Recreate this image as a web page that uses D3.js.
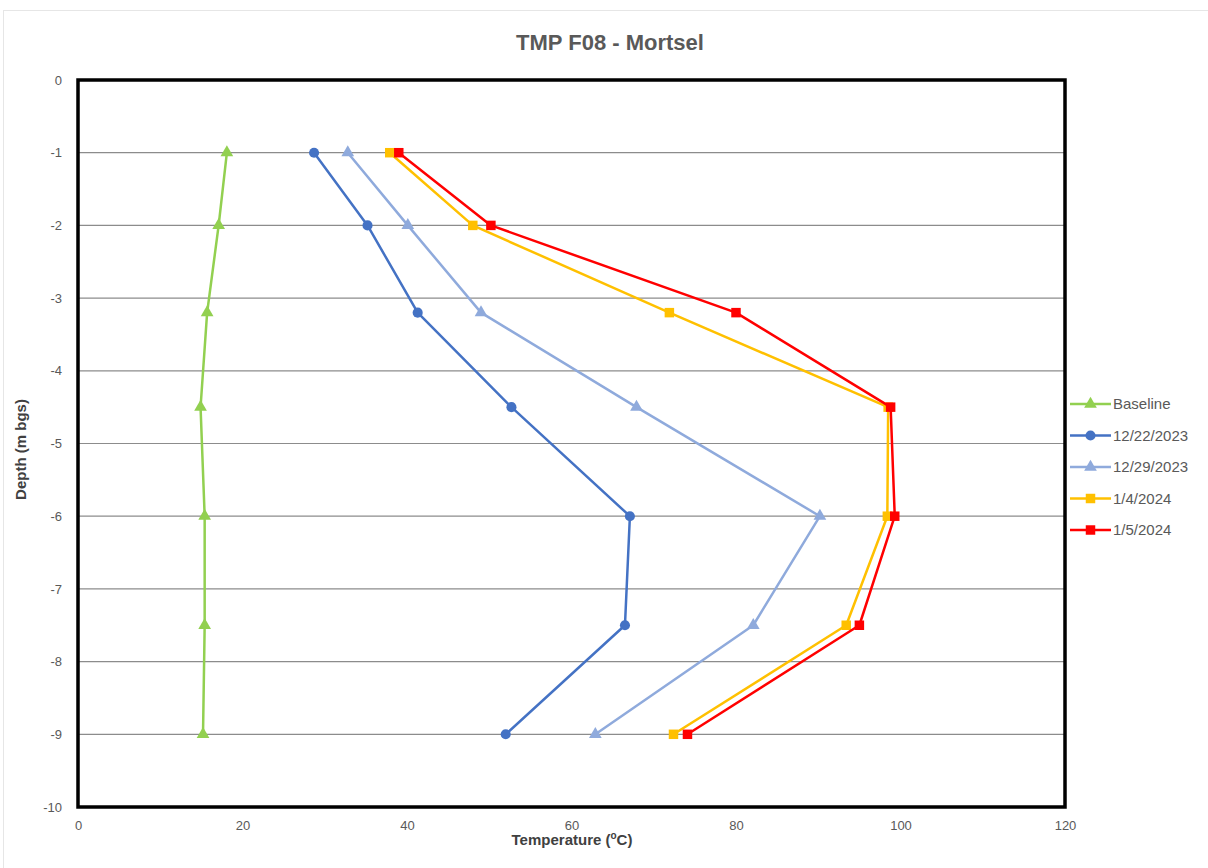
<!DOCTYPE html>
<html>
<head>
<meta charset="utf-8">
<script src="https://cdn.jsdelivr.net/npm/d3@7/dist/d3.min.js"></script>
<style>
  html, body { margin: 0; padding: 0; background: #fff; }
  svg { display: block; }
  text { font-family: "Liberation Sans Narrow", "Liberation Sans", Arial, sans-serif; }
</style>
</head>
<body>
<svg id="chart" width="1208" height="868"></svg>
<script>
// Sampling depths (m below ground surface)
const depths = [-1, -2, -3.2, -4.5, -6, -7.5, -9];

// Temperature profiles per survey date (°C)
const baseline = [18.1, 17.1, 15.7, 14.9, 15.4, 15.4, 15.2];
const dec22    = [28.7, 35.2, 41.3, 52.7, 67.1, 66.5, 52.0];
const dec29    = [32.8, 40.1, 49.0, 67.9, 90.2, 82.1, 62.9];
const jan04    = [37.9, 48.0, 71.9, 98.5, 98.4, 93.4, 72.4];
const jan05    = [39.0, 50.2, 80.0, 98.8, 99.3, 95.0, 74.1];

const seriesNames = ["Baseline", "12/22/2023", "12/29/2023", "1/4/2024", "1/5/2024"];
const seriesValues = [baseline, dec22, dec29, jan04, jan05];
const seriesColors = ["#92D050", "#4472C4", "#8FAADC", "#FFC000", "#FF0000"];
const seriesMarkers = ["triangle", "circle", "triangle", "square", "square"];

const xTicks = [0, 20, 40, 60, 80, 100, 120];
const yTicks = [0, -1, -2, -3, -4, -5, -6, -7, -8, -9, -10];

const svg = d3.select("#chart");

// Chart area outline
svg.append("rect")
  .attr("x", 3.5).attr("y", 10.5)
  .attr("width", 1220).attr("height", 870)
  .attr("fill", "#fff").attr("stroke", "#e6e6e6");

const plot = { left: 78, right: 1065, top: 80, bottom: 807 };

const x = d3.scaleLinear().domain([0, 120]).range([plot.left, plot.right]);
const y = d3.scaleLinear().domain([0, -10]).range([plot.top, plot.bottom]);

// Title
svg.append("text")
  .attr("x", 610).attr("y", 50)
  .attr("text-anchor", "middle")
  .attr("font-size", 22).attr("font-weight", "bold")
  .attr("fill", "#595959")
  .text("TMP F08 - Mortsel");

// Horizontal gridlines
svg.append("g")
  .selectAll("line")
  .data(yTicks.slice(1, -1))
  .join("line")
  .attr("x1", plot.left).attr("x2", plot.right)
  .attr("y1", d => y(d)).attr("y2", d => y(d))
  .attr("stroke", "#8c8c8c").attr("stroke-width", 1.2);

// Axes (labels only, plain hyphen for negatives)
const plain = d => String(d);
const yAxis = svg.append("g")
  .attr("transform", `translate(${plot.left},0)`)
  .call(d3.axisLeft(y).tickValues(yTicks).tickSize(0).tickPadding(16).tickFormat(plain));
yAxis.select(".domain").remove();
yAxis.selectAll("text").attr("fill", "#595959").attr("font-size", 13);

const xAxis = svg.append("g")
  .attr("transform", `translate(0,${plot.bottom})`)
  .call(d3.axisBottom(x).tickValues(xTicks).tickSize(0).tickPadding(14).tickFormat(plain));
xAxis.select(".domain").remove();
xAxis.selectAll("text").attr("fill", "#595959").attr("font-size", 13);

// Plot frame
svg.append("rect")
  .attr("x", plot.left).attr("y", plot.top)
  .attr("width", plot.right - plot.left).attr("height", plot.bottom - plot.top)
  .attr("fill", "none").attr("stroke", "#000").attr("stroke-width", 3.5);

// Axis titles
const xt = svg.append("text")
  .attr("x", 572).attr("y", 845)
  .attr("text-anchor", "middle")
  .attr("font-size", 15).attr("font-weight", "bold")
  .attr("fill", "#404040");
xt.append("tspan").text("Temperature (");
xt.append("tspan").attr("font-size", 10).attr("dy", -6).text("o");
xt.append("tspan").attr("dy", 6).text("C)");

svg.append("text")
  .attr("transform", `translate(26,${(plot.top + plot.bottom) / 2 + 6}) rotate(-90)`)
  .attr("text-anchor", "middle")
  .attr("font-size", 15).attr("font-weight", "bold")
  .attr("fill", "#404040")
  .text("Depth (m bgs)");

// Marker shapes
const symbolFor = {
  circle: d3.symbol().type(d3.symbolCircle).size(80),
  square: d3.symbol().type(d3.symbolSquare).size(90),
  triangle: d3.symbol().type(d3.symbolTriangle).size(70)
};

const line = d3.line().x(d => x(d.t)).y(d => y(d.d));

const series = seriesNames.map((name, i) => ({
  name,
  color: seriesColors[i],
  marker: seriesMarkers[i],
  points: depths.map((d, j) => ({ d, t: seriesValues[i][j] }))
}));

const sg = svg.append("g").selectAll("g").data(series).join("g");
sg.append("path")
  .attr("d", s => line(s.points))
  .attr("fill", "none")
  .attr("stroke", s => s.color)
  .attr("stroke-width", 2.5)
  .attr("stroke-linejoin", "round");
sg.each(function (s) {
  d3.select(this).selectAll("path.mk")
    .data(s.points)
    .join("path")
    .attr("class", "mk")
    .attr("transform", p => `translate(${x(p.t)},${y(p.d)})`)
    .attr("d", symbolFor[s.marker]())
    .attr("fill", s.color);
});

// Legend
const legend = svg.append("g").attr("transform", "translate(1070,404)");
const li = legend.selectAll("g").data(series).join("g")
  .attr("transform", (d, i) => `translate(0,${i * 31.5})`);
li.append("line")
  .attr("x1", 0).attr("x2", 41)
  .attr("stroke", d => d.color).attr("stroke-width", 2.5);
li.append("path")
  .attr("transform", "translate(20.5,0)")
  .attr("d", d => symbolFor[d.marker]())
  .attr("fill", d => d.color);
li.append("text")
  .attr("x", 43).attr("y", 0).attr("dy", "0.35em")
  .attr("font-size", 15)
  .attr("fill", "#595959")
  .text(d => d.name);
</script>
</body>
</html>
